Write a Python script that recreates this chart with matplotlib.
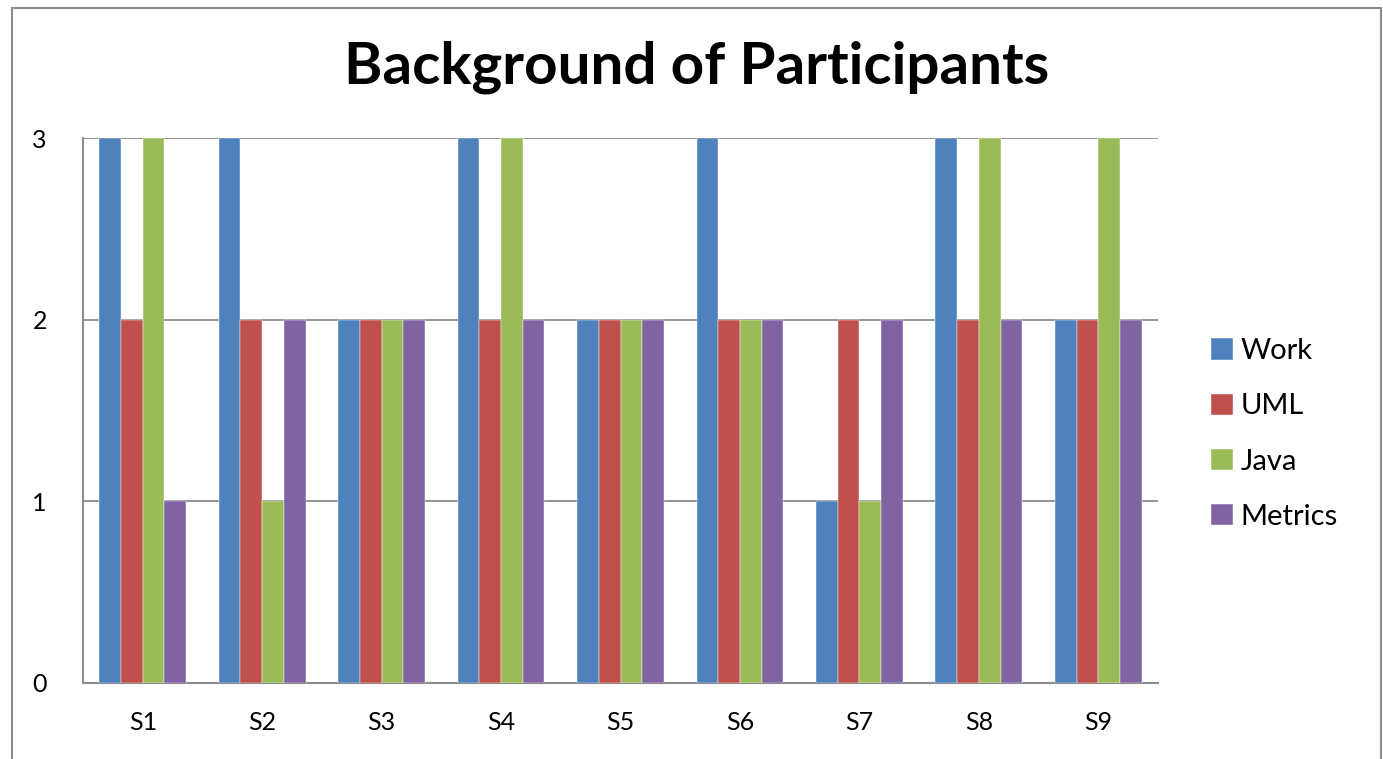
import matplotlib.pyplot as plt
import matplotlib.patches as mpatches
import numpy as np

plt.rcParams['font.family'] = ['Lato', 'DejaVu Sans']

subjects = ['S1', 'S2', 'S3', 'S4', 'S5', 'S6', 'S7', 'S8', 'S9']
series_names = ['Work', 'UML', 'Java', 'Metrics']
work = [3, 3, 2, 3, 2, 3, 1, 3, 2]
uml = [2, 2, 2, 2, 2, 2, 2, 2, 2]
java = [3, 1, 2, 3, 2, 2, 1, 3, 3]
metrics = [1, 2, 2, 2, 2, 2, 2, 2, 2]
colors = ['#4F81BD', '#C0504D', '#9BBB59', '#8064A2']

fig = plt.figure(figsize=(13.83, 7.59), dpi=100)
ax = fig.add_axes([83/1383, 1 - 683/759, (1158 - 83)/1383, (683 - 138)/759])

# outer chart border
fig.patches.append(mpatches.Rectangle((12/1383, -0.05), (1381 - 12)/1383, 1.05 - 8/759,
                                      transform=fig.transFigure, fill=False,
                                      edgecolor='#8c8c8c', linewidth=1.5))

x = np.arange(len(subjects))
w = 1/5.5
for i, (vals, name) in enumerate(zip([work, uml, java, metrics], series_names)):
    ax.bar(x + (i - 1.5)*w, vals, w, color=colors[i], label=name,
           edgecolor='white', linewidth=0.3, zorder=3)

ax.set_xlim(-0.5, len(subjects) - 0.5)
ax.set_ylim(0, 3)
ax.set_yticks([0, 1, 2, 3])
ax.set_xticks(x)
ax.set_xticklabels(subjects)
ax.tick_params(axis='y', labelsize=18, length=0, pad=26)
ax.tick_params(axis='x', labelsize=18, length=0, pad=20)
ax.yaxis.grid(True, color='#8c8c8c', linewidth=1.3, zorder=0)
for s in ['top', 'right']:
    ax.spines[s].set_visible(False)
for s in ['left', 'bottom']:
    ax.spines[s].set_color('#8c8c8c')
    ax.spines[s].set_linewidth(1.5)

fig.text(697/1383, 1 - 67/759, 'Background of Participants', ha='center', va='center',
         fontsize=42, fontweight='bold')

fig.legend(loc='center left', bbox_to_anchor=(1185/1383, 1 - 434/759), frameon=False,
           fontsize=21, handlelength=0.75, handleheight=0.75, handletextpad=0.25,
           labelspacing=1.0)

fig.savefig('out.png', dpi=100)
